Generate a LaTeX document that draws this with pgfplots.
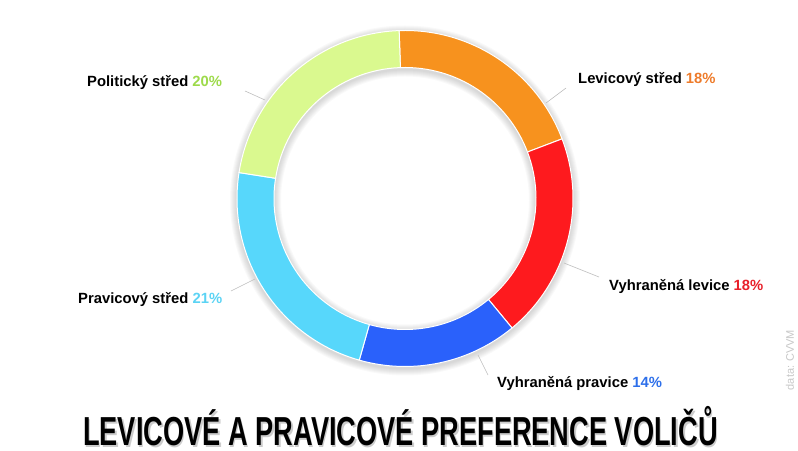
\documentclass[border=0pt]{standalone}
\usepackage{pgfplots}
\usepackage{pgfplotstable}
\pgfplotsset{compat=1.18}
\usepackage{fontspec}
\setmainfont{Liberation Sans}

\definecolor{seg0}{HTML}{F7921E}
\definecolor{seg1}{HTML}{FE1A1E}
\definecolor{seg2}{HTML}{2A61FB}
\definecolor{seg3}{HTML}{57D7FB}
\definecolor{seg4}{HTML}{DAF98F}
\definecolor{txtGreen}{HTML}{9DDA4A}
\definecolor{txtOrange}{HTML}{EE7B2A}
\definecolor{txtRed}{HTML}{E8202A}
\definecolor{txtBlue}{HTML}{2D6FEA}
\definecolor{txtLight}{HTML}{5BD3F4}
\definecolor{leader}{HTML}{BDBDBD}

% podíly (v %), pořadí po směru hodinových ručiček od vrcholu
\pgfplotstableread{
cx  cy    value idx
405 251.5 18    0
405 251.5 18    1
405 251.5 14    2
405 251.5 21    3
405 251.5 20    4
}\podily
\pgfplotstablecreatecol[create col/expr accum={\pgfmathaccuma + \thisrow{value}}{0}]{cum}\podily

\newcommand\rout{168}
\newcommand\rin{131}
\newcommand\total{91}
\newcommand\start{92}
\newcommand\titulek{LEVICOVÉ A PRAVICOVÉ PREFERENCE VOLIČŮ}

\begin{document}
\begin{tikzpicture}
\path[use as bounding box] (0,0) rectangle (798pt,450pt);
\begin{axis}[
  scale only axis, width=798pt, height=450pt,
  xmin=0, xmax=798, ymin=0, ymax=450,
  hide axis, clip=false,
]
% jemný stín kolem prstence
\pgfplotsinvokeforeach{1,...,7}{
  \fill[black, opacity=0.022, even odd rule]
    (axis cs:405,249.5) circle[radius=\rout pt + #1 pt]
    (axis cs:405,249.5) circle[radius=\rin pt - #1 pt];
}
\addplot[
  scatter, only marks, mark=*, mark size=0.01pt,
  mark options={draw opacity=0, fill opacity=0},
  visualization depends on={\thisrow{value} \as \val},
  visualization depends on={\thisrow{cum} \as \cum},
  visualization depends on={\thisrow{idx} \as \idx},
  scatter/@pre marker code/.code={
    \pgfmathsetmacro\sa{\start-360/\total*(\cum-\val)}
    \pgfmathsetmacro\ea{\start-360/\total*\cum}
    \pgfmathtruncatemacro\ci{\idx}
    \fill[fill=seg\ci, draw=white, line width=1pt, fill opacity=1, draw opacity=1]
      (\sa:\rout pt) arc[start angle=\sa, end angle=\ea, radius=\rout pt]
      -- (\ea:\rin pt) arc[start angle=\ea, end angle=\sa, radius=\rin pt] -- cycle;
  },
  scatter/@post marker code/.code={},
] table[x=cx, y=cy] {\podily};

% popisky s vodicími čarami
\draw[leader, line width=0.6pt] (axis cs:566,362) -- (axis cs:546,347);
\draw[leader, line width=0.6pt] (axis cs:599,173) -- (axis cs:564,187);
\draw[leader, line width=0.6pt] (axis cs:488,75) -- (axis cs:478,95);
\draw[leader, line width=0.6pt] (axis cs:231,159) -- (axis cs:255,171);
\draw[leader, line width=0.6pt] (axis cs:245,359) -- (axis cs:265,350);

\tikzset{lab/.style={anchor=base west, inner sep=0pt, font=\fontsize{14.8}{16}\selectfont\bfseries}}
\node[lab] at (axis cs:578,366) {Levicový střed \textcolor{txtOrange}{18\%}};
\node[lab] at (axis cs:609,159) {Vyhraněná levice \textcolor{txtRed}{18\%}};
\node[lab] at (axis cs:497,62) {Vyhraněná pravice \textcolor{txtBlue}{14\%}};
\node[lab] at (axis cs:78,146) {Pravicový střed \textcolor{txtLight}{21\%}};
\node[lab] at (axis cs:87,363) {Politický střed \textcolor{txtGreen}{20\%}};

% zdroj
\node[rotate=90, text=black!22, font=\fontsize{11}{13}\selectfont, inner sep=0pt]
  at (axis cs:790,90) {data: CVVM};

% titulek se stínem
\tikzset{tit/.style={anchor=base, inner sep=0pt, xscale=0.672, font=\fontsize{40.5}{44}\selectfont\bfseries}}
\node[tit, text=black, opacity=0.2] at (axis cs:402,3) {\titulek};
\node[tit, text=black] at (axis cs:400.5,4.5) {\titulek};
\end{axis}
\end{tikzpicture}
\end{document}
